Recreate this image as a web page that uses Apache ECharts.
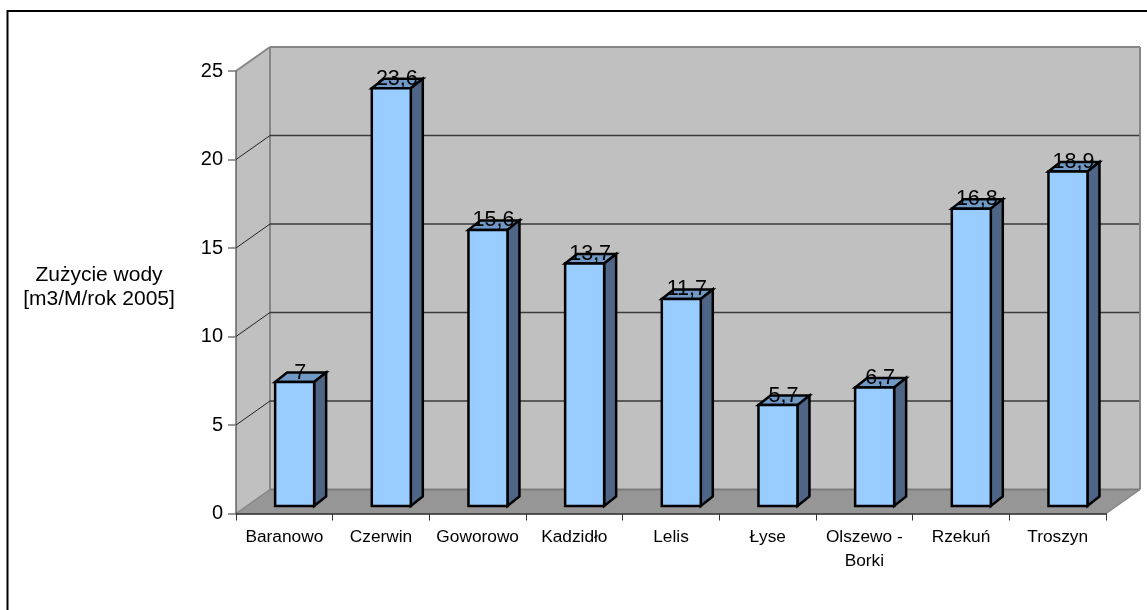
<!DOCTYPE html>
<html><head><meta charset="utf-8">
<style>html,body{margin:0;padding:0;background:#fff}#c{width:1147px;height:610px}</style>
<script src="https://cdn.jsdelivr.net/npm/echarts@6/dist/echarts.min.js"></script>
</head><body><div id="c"></div>
<script>
const categories = ['Baranowo','Czerwin','Goworowo','Kadzidło','Lelis','Łyse','Olszewo -\nBorki','Rzekuń','Troszyn'];
const values = [7,23.6,15.6,13.7,11.7,5.7,6.7,16.8,18.9];
const gridValues = [5,10,15,20];
const axisMax = 25, axisStep = 5;
const yAxisTitle = 'Zużycie wody\n[m3/M/rok 2005]';

const FONT = '"Liberation Sans", Arial, sans-serif';
const DX = 34, DY = -24;           // depth of the box
const BDX = 12, BDY = -9.5;        // depth of a bar
const OX = 10.3, OY = -7.5;        // bar offset from front plane
const BW = 39;

const chart = echarts.init(document.getElementById('c'));

function plotEnds(api, v) {
  const half = api.size([1, 0])[0] / 2;
  const a = api.coord([0, v]), c = api.coord([categories.length - 1, v]);
  return [[a[0] - half, a[1]], [c[0] + half, c[1]]];
}
function wallItem(params, api) {
  const [p00, p10] = plotEnds(api, 0);
  const [p0t, p1t] = plotEnds(api, axisMax);
  const b = p => [p[0] + DX, p[1] + DY];
  const edge = '#868686';
  const line = (a, c, stroke, w) => ({type:'line', shape:{x1:a[0],y1:a[1],x2:c[0],y2:c[1]}, style:{stroke, lineWidth:w, fill:null}});
  return {type:'group', children:[
    {type:'polygon', shape:{points:[b(p0t),b(p1t),b(p10),b(p00)]}, style:{fill:'#C0C0C0'}},
    {type:'polygon', shape:{points:[p0t,b(p0t),b(p00),p00]}, style:{fill:'#C0C0C0'}},
    {type:'polygon', shape:{points:[p00,b(p00),b(p10),p10]}, style:{fill:'#969696'}},
    line(p0t, b(p0t), edge, 2),
    line(b(p0t), b(p1t), edge, 2),
    line(b(p1t), b(p10), edge, 2),
    line(b(p0t), b(p00), edge, 2),
    line(p00, b(p00), edge, 1.5),
    line(b(p00), b(p10), '#7c7c7c', 2),
    line(p10, b(p10), edge, 1.5),
    line(p0t, p00, '#444', 1.2)
  ]};
}
function gridItem(params, api) {
  const [a, c] = plotEnds(api, api.value(0));
  const b = p => [p[0] + DX, p[1] + DY];
  return {type:'group', children:[
    {type:'line', shape:{x1:a[0],y1:a[1],x2:a[0]+DX,y2:a[1]+DY}, style:{stroke:'#222', lineWidth:1}},
    {type:'line', shape:{x1:b(a)[0],y1:b(a)[1],x2:b(c)[0]-1,y2:b(c)[1]}, style:{stroke:'#3a3a3a', lineWidth:1.4}}
  ]};
}
function barItem(params, api) {
  const i = api.value(0), v = api.value(1);
  const top = api.coord([i, v]), base = api.coord([i, 0]);
  const x0 = top[0] + OX - BW / 2, x1 = x0 + BW;
  const yT = top[1] + OY, yB = base[1] + OY;
  const st = f => ({fill:f, stroke:'#000', lineWidth:2.5, lineJoin:'miter'});
  return {type:'group', children:[
    {type:'polygon', shape:{points:[[x0,yT],[x1,yT],[x1+BDX,yT+BDY],[x0+BDX,yT+BDY]]}, style:st('#7099C6')},
    {type:'polygon', shape:{points:[[x1,yT],[x1+BDX,yT+BDY],[x1+BDX,yB+BDY],[x1,yB]]}, style:st('#4E6585')},
    {type:'rect', shape:{x:x0,y:yT,width:BW,height:yB-yT}, style:st('#99CCFF')},
    {type:'text', style:{x:(x0+x1)/2+5.5, y:yT-9.5, text:String(v).replace('.',','), fill:'#000',
      font:'21.5px '+FONT, align:'center', verticalAlign:'middle'}}
  ]};
}

chart.setOption({
  animation:false,
  backgroundColor:'#fff',
  grid:{left:236, right:41, top:71, bottom:96.5, containLabel:false},
  xAxis:{type:'category', data:categories, boundaryGap:true, z:5,
    axisLine:{show:true, lineStyle:{color:'#222', width:1.5}},
    axisTick:{show:true, length:7, alignWithLabel:false, interval:0, lineStyle:{color:'#333', width:1}},
    axisLabel:{interval:0, margin:12, color:'#000', fontFamily:FONT, fontSize:17.3, lineHeight:24},
    splitLine:{show:false}},
  yAxis:{type:'value', min:0, max:axisMax, interval:axisStep, z:5,
    axisLine:{show:false},
    axisTick:{show:true, length:8, lineStyle:{color:'#777', width:1.5}},
    axisLabel:{margin:13, color:'#000', fontFamily:FONT, fontSize:20},
    splitLine:{show:false}},
  graphic:[
    {type:'polyline', z:10, shape:{points:[[7.5,620],[7.5,11],[1160,11]]}, style:{stroke:'#000', lineWidth:2, fill:null}},
    {type:'text', z:10, x:99, y:287, style:{text:yAxisTitle, fill:'#000', font:'21px '+FONT, align:'center', verticalAlign:'middle', lineHeight:23.5}}
  ],
  series:[
    {type:'custom', z:1, silent:true, clip:false, coordinateSystem:'cartesian2d', data:[[0]], encode:{x:[],y:[]}, renderItem:wallItem},
    {type:'custom', z:2, silent:true, clip:false, coordinateSystem:'cartesian2d', data:gridValues.map(v=>[v]), encode:{x:[],y:[]}, renderItem:gridItem},
    {type:'custom', z:3, silent:true, clip:false, coordinateSystem:'cartesian2d', data:categories.map((c,i)=>[i,values[i]]), encode:{x:0,y:1}, renderItem:barItem}
  ]
});
</script></body></html>
